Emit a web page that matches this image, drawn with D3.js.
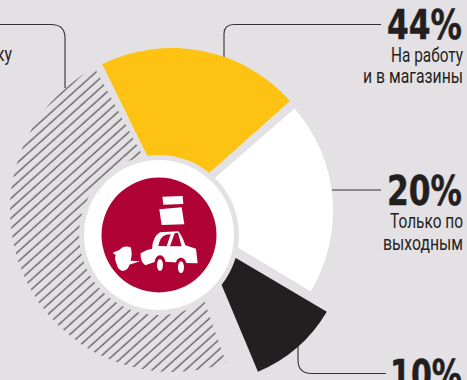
<!DOCTYPE html>
<html>
<head>
<meta charset="utf-8">
<script src="https://cdn.jsdelivr.net/npm/d3@7"></script>
<style>
  html, body { margin: 0; padding: 0; background: #e3e1e4; }
  svg { display: block; }
  text { fill: #231f20; }
</style>
</head>
<body>
<svg id="chart"></svg>
<script>
// Wedges as drawn in the picture (angles clockwise from 12 o'clock, degrees)
const wedgeNames = ["hatched", "yellow", "white", "black"];
const wedgeStart = [-199.5, -26.2, 48.9, 120.6];
const wedgeEnd = [-28.5, 48.3, 121, 157.3];
const wedgeRadius = [162, 158, 156, 145];

const percentLabels = ["44%", "20%", "10%"];
const captionLines = [["На работу", "и в магазины"], ["Только по", "выходным"], []];

const width = 467;
const height = 380;

const svg = d3.select("#chart")
    .attr("width", width)
    .attr("height", height);

const defs = svg.append("defs");

// Diagonal hatching for the biggest wedge
const pattern = defs.append("pattern")
    .attr("id", "hatch")
    .attr("patternUnits", "userSpaceOnUse")
    .attr("width", 7.4)
    .attr("height", 7.4)
    .attr("patternTransform", "rotate(48)");
pattern.append("line")
    .attr("x1", 2).attr("x2", 2)
    .attr("y1", 0).attr("y2", 7.4)
    .attr("stroke", "#333132")
    .attr("stroke-width", 1);

const angle = d3.scaleLinear().domain([0, 360]).range([0, 2 * Math.PI]);
const arc = d3.arc().innerRadius(0);

const wedgeCenter = {
    hatched: [172, 210],
    yellow: [172, 206],
    white: [177, 211],
    black: [202, 238]
};
const wedgeFill = {
    hatched: "url(#hatch)",
    yellow: "#fec312",
    white: "#ffffff",
    black: "#231f20"
};

// Leader lines go under the wedges
const leaders = [
    "M0,24.5H51Q65,24.5 65,38V88",
    "M224,57V34Q224,24.5 234,24.5H381",
    "M332,190H381",
    "M298,345V360Q298,373.5 312,373.5H386"
];
svg.append("g")
    .selectAll("path")
    .data(leaders)
    .join("path")
    .attr("d", d => d)
    .attr("fill", "none")
    .attr("stroke", "#333132")
    .attr("stroke-width", 1.1);

svg.append("g")
    .selectAll("path")
    .data(wedgeNames)
    .join("path")
    .attr("transform", d => `translate(${wedgeCenter[d]})`)
    .attr("fill", d => wedgeFill[d])
    .attr("d", (d, i) => arc({
        outerRadius: wedgeRadius[i],
        startAngle: angle(wedgeStart[i]),
        endAngle: angle(wedgeEnd[i])
    }));

// Hub with the car
const hub = svg.append("g").attr("transform", "translate(159,235)");
hub.append("circle").attr("r", 80).attr("fill", "#e3e1e4");
hub.append("circle").attr("r", 75).attr("fill", "#ffffff");
hub.append("circle").attr("r", 57.5).attr("fill", "#b00335");

// Icon traced at 3x, so scale it back down
const icon = svg.append("g")
    .attr("transform", "translate(0,190) scale(0.3333)")
    .attr("fill", "#ffffff");
icon.append("path").attr("d", "M487,20L548,18L550,42L490,44Z");
icon.append("path").attr("d", "M478,58L545,52L553,103L485,105Z");
icon.append("path").attr("d", "M422,190Q440,178 456,176Q458,140 480,127L535,124Q548,140 556,166L588,176L593,220L556,219L470,214L436,226Q420,215 422,190Z");
icon.append("path").attr("d", "M338,188L358,180Q372,165 392,172Q398,190 392,212L420,214L388,224Q385,240 368,243Q352,238 350,222Q342,205 347,196Z");
icon.append("path").attr("fill", "#b00335").attr("d", "M475,168Q480,140 498,134L512,133L500,169Z");
icon.append("path").attr("fill", "#b00335").attr("d", "M510,169L524,130L534,128L545,169Z");
[[480, 225], [543, 232]].forEach(c => {
    icon.append("ellipse").attr("cx", c[0]).attr("cy", c[1] - 4).attr("rx", 17).attr("ry", 25).attr("fill", "#b00335");
    icon.append("ellipse").attr("cx", c[0]).attr("cy", c[1]).attr("rx", 9).attr("ry", 18);
});

// Squeeze a right-aligned text to the width it has in the picture
function fitText(str, right, baseline, targetWidth, font) {
    const t = svg.append("text")
        .attr("text-anchor", "end")
        .attr("font-family", font.family)
        .attr("font-size", font.size)
        .attr("font-weight", font.weight)
        .attr("stroke", font.stroke ? "#231f20" : null)
        .attr("stroke-width", font.stroke || null)
        .text(str);
    const sx = targetWidth / t.node().getComputedTextLength();
    t.attr("transform", `translate(${right},${baseline}) scale(${sx},1)`);
    return t;
}

const bigFont = { family: "DejaVu Sans", size: 41, weight: "bold", stroke: 0.5 };
const smallFont = { family: "Roboto", size: 19.5, weight: "normal" };

// Labels on the right
const labelY = [39, 205, 389];
const labelWidth = [75, 75, 72];
const captionY = [[62, 83], [228, 250], []];
const captionWidth = [[72, 100], [73, 80], []];

percentLabels.forEach((label, i) => {
    fitText(label, 462, labelY[i], labelWidth[i], bigFont);
    captionLines[i].forEach((line, j) => {
        fitText(line, 463, captionY[i][j], captionWidth[i][j], smallFont);
    });
});

// Tail of a caption cut off by the left edge
fitText("ку", 12, 61, 16, smallFont);
</script>
</body>
</html>
